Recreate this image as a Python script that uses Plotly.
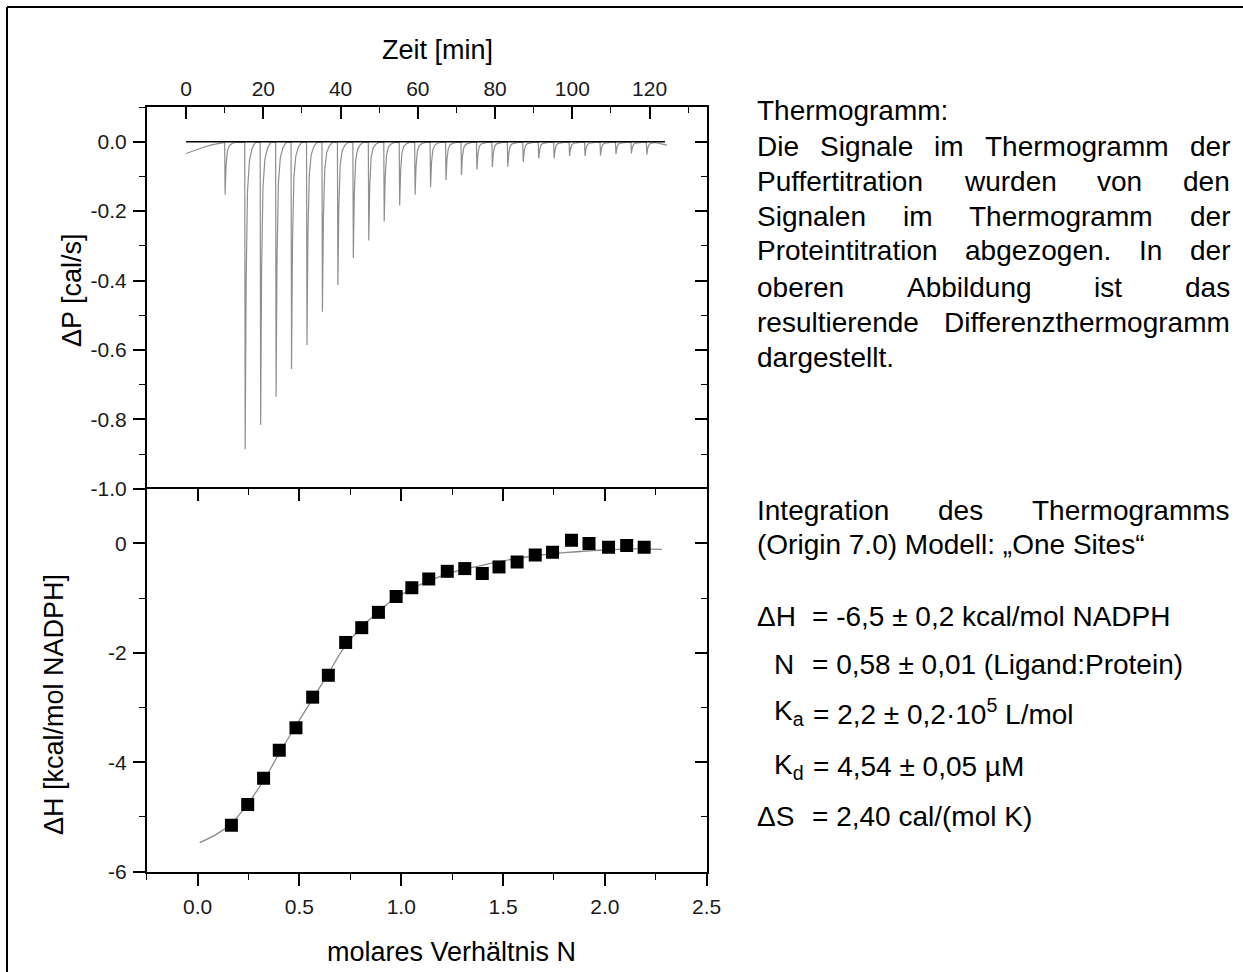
import plotly.graph_objects as go

W, H = 1243, 972
FONT = "Liberation Sans, Arial, Helvetica, sans-serif"

# ---------------- data ----------------
# top panel: differential thermogram, injection peaks
peak_time_min = [10.1, 15.3, 19.3, 23.3, 27.3, 31.3, 35.3, 39.3, 43.3, 47.3,
                 51.3, 55.3, 59.3, 63.3, 67.3, 71.3, 75.3, 79.3, 83.3, 87.3,
                 91.3, 95.3, 99.3, 103.3, 107.3, 111.3, 115.3, 119.3]
peak_dP = [-0.153, -0.886, -0.816, -0.735, -0.655, -0.586, -0.490, -0.413, -0.335, -0.285,
           -0.230, -0.184, -0.152, -0.131, -0.110, -0.096, -0.080, -0.073, -0.072, -0.058,
           -0.048, -0.048, -0.041, -0.041, -0.040, -0.036, -0.034, -0.037]
drift_time_min = [0.0, 2.0, 4.5, 6.6, 9.2]
drift_dP = [-0.034, -0.025, -0.016, -0.009, -0.003]
end_time_min = [122.0, 124.5]
end_dP = [-0.004, -0.010]
baseline_time = [0.0, 124.0]
baseline_dP = [0.0, 0.0]

# bottom panel: integrated heats and fit
ratio_N = [0.166, 0.246, 0.324, 0.401, 0.483, 0.565, 0.642, 0.727, 0.806, 0.888,
           0.975, 1.052, 1.135, 1.226, 1.312, 1.398, 1.480, 1.569, 1.658, 1.743,
           1.836, 1.922, 2.018, 2.107, 2.193]
dH_kcal = [-5.15, -4.77, -4.29, -3.78, -3.37, -2.81, -2.41, -1.81, -1.54, -1.26,
           -0.97, -0.81, -0.65, -0.51, -0.46, -0.55, -0.43, -0.34, -0.21, -0.16,
           0.06, 0.00, -0.07, -0.04, -0.07]
fit_N = [0.01, 0.10, 0.17, 0.25, 0.33, 0.40, 0.48, 0.56, 0.64, 0.72, 0.80, 0.88,
         0.96, 1.05, 1.15, 1.25, 1.35, 1.50, 1.65, 1.80, 2.00, 2.15, 2.28]
fit_dH = [-5.47, -5.30, -5.10, -4.74, -4.30, -3.84, -3.35, -2.87, -2.39, -1.90, -1.55,
          -1.27, -1.03, -0.83, -0.66, -0.53, -0.44, -0.32, -0.23, -0.17, -0.12, -0.10, -0.11]

# tick labels
time_ticks = [0, 20, 40, 60, 80, 100, 120]
time_labels = ["0", "20", "40", "60", "80", "100", "120"]
dP_ticks = [0.0, -0.2, -0.4, -0.6, -0.8, -1.0]
dP_labels = ["0.0", "-0.2", "-0.4", "-0.6", "-0.8", "-1.0"]
N_ticks = [0.0, 0.5, 1.0, 1.5, 2.0, 2.5]
N_labels = ["0.0", "0.5", "1.0", "1.5", "2.0", "2.5"]
dH_ticks = [0, -2, -4, -6]
dH_labels = ["0", "-2", "-4", "-6"]

# text
desc_rows = [
    ["Thermogramm:"],
    ["Die", "Signale", "im", "Thermogramm", "der"],
    ["Puffertitration", "wurden", "von", "den"],
    ["Signalen", "im", "Thermogramm", "der"],
    ["Proteintitration", "abgezogen.", "In", "der"],
    ["oberen", "Abbildung", "ist", "das"],
    ["resultierende", "Differenzthermogramm"],
    ["dargestellt."],
]
desc_justified = [False, True, True, True, True, True, True, False]
fit_row1 = ["Integration", "des", "Thermogramms"]
fit_row2 = "(Origin 7.0) Modell: \u201eOne Sites\u201c"
param_labels = ["\u0394H", "N", "K<sub>a</sub>", "K<sub>d</sub>", "\u0394S"]
param_values = ["= -6,5 \u00b1 0,2 kcal/mol NADPH",
                "= 0,58 \u00b1 0,01 (Ligand:Protein)",
                "= 2,2 \u00b1 0,2\u00b710<sup>5</sup> L/mol",
                "= 4,54 \u00b1 0,05 \u00b5M",
                "= 2,40 cal/(mol K)"]

# ---------------- geometry (pixels) ----------------
XL, XR = 146.7, 706.7
T_TOP, MID, B_BOT = 107.0, 488.7, 871.7


def px(x):
    return x / W


def py(y):
    return 1 - y / H


# Arial / Liberation Sans advance widths (1/1000 em) for justification
AW = dict(zip("abcdefghijklmnopqrstuvwxyz",
              [556, 556, 500, 556, 556, 278, 556, 556, 222, 222, 500, 222, 833,
               556, 556, 556, 556, 333, 500, 278, 556, 500, 722, 500, 500, 500]))
AW.update({"A": 667, "B": 667, "D": 722, "I": 278, "P": 667, "S": 667, "T": 611,
           ".": 278, ":": 278, " ": 278})


def tw(s, fs):
    return sum(AW.get(c, 556) for c in s) * fs / 1000.0


def justify(words, x0, x1, fs):
    ws = [tw(w, fs) for w in words]
    gap = (x1 - x0 - sum(ws)) / (len(words) - 1)
    pos, x = [], x0
    for w in ws:
        pos.append(x)
        x += w + gap
    return pos


# ---------------- thermogram trace ----------------
spike_off = [-0.12, 0.0, 0.25, 0.6, 1.1, 1.8, 2.6]
spike_frac = [0.0, 1.0, 0.45, 0.16, 0.06, 0.02, 0.0]
tx, ty = list(drift_time_min), list(drift_dP)
for t, d in zip(peak_time_min, peak_dP):
    for o, f in zip(spike_off, spike_frac):
        tx.append(t + o)
        ty.append(d * f - 0.002 * (1 - f))
tx += end_time_min
ty += end_dP

fig = go.Figure()
fig.add_trace(go.Scatter(x=tx, y=ty, mode="lines", xaxis="x", yaxis="y",
                         line=dict(color="#8f8f8f", width=1.2), showlegend=False,
                         hoverinfo="skip"))
fig.add_trace(go.Scatter(x=baseline_time, y=baseline_dP, mode="lines", xaxis="x", yaxis="y",
                         line=dict(color="black", width=1.6), showlegend=False))
fig.add_trace(go.Scatter(x=[], y=[], xaxis="x", yaxis="y3", showlegend=False))
fig.add_trace(go.Scatter(x=fit_N, y=fit_dH, mode="lines", xaxis="x2", yaxis="y2",
                         line=dict(color="#8a8a8a", width=1.3, shape="spline"),
                         showlegend=False))
fig.add_trace(go.Scatter(x=ratio_N, y=dH_kcal, mode="markers", xaxis="x2", yaxis="y2",
                         marker=dict(symbol="square", size=13, color="black",
                                     line=dict(width=0)), showlegend=False))
fig.add_trace(go.Scatter(x=[], y=[], xaxis="x4", yaxis="y2", showlegend=False))
fig.add_trace(go.Scatter(x=[], y=[], xaxis="x2", yaxis="y4", showlegend=False))

TICKFONT = dict(family=FONT, size=21, color="#1a1a1a")
base = dict(showgrid=False, zeroline=False, showline=True, linecolor="black",
            linewidth=1.6, tickcolor="black", tickwidth=1.5, ticklen=12,
            tickfont=TICKFONT, automargin=False)


def minor(dt, side):
    return dict(dtick=dt, tick0=0, ticks=side, ticklen=6, tickcolor="black", tickwidth=1.4)


xdom = [px(XL), px(XR)]
fig.update_layout(
    width=W, height=H, margin=dict(l=0, r=0, t=0, b=0),
    template="none", paper_bgcolor="white", plot_bgcolor="rgba(0,0,0,0)",
    showlegend=False,
    xaxis=dict(base, domain=xdom, anchor="y", side="top", range=[-10.2, 134.8],
               tickmode="array", tickvals=time_ticks, ticktext=time_labels,
               ticks="inside", minor=minor(10, "inside"), mirror=False,
               ticklabelstandoff=1),
    yaxis=dict(base, domain=[py(MID), py(T_TOP)], anchor="x", range=[-1.0, 0.1],
               tickmode="array", tickvals=dP_ticks, ticktext=dP_labels,
               ticks="outside", minor=minor(0.1, "outside"), ticklabelstandoff=2),
    yaxis3=dict(base, overlaying="y", side="right", anchor="x", range=[-1.0, 0.1],
                tickmode="array", tickvals=dP_ticks, showticklabels=False,
                ticks="inside", minor=minor(0.1, "inside")),
    xaxis2=dict(base, domain=xdom, anchor="y2", side="bottom", range=[-0.25, 2.5],
                tickmode="array", tickvals=N_ticks, ticktext=N_labels,
                ticks="outside", minor=minor(0.25, "outside"), ticklabelstandoff=3),
    xaxis4=dict(base, overlaying="x2", side="top", anchor="y2", range=[-0.25, 2.5],
                tickmode="array", tickvals=N_ticks, showticklabels=False,
                ticks="inside", minor=minor(0.25, "inside"), linewidth=2),
    yaxis2=dict(base, domain=[py(B_BOT), py(MID)], anchor="x2", range=[-6, 1],
                tickmode="array", tickvals=dH_ticks, ticktext=dH_labels,
                ticks="outside", minor=minor(1, "outside"), ticklabelstandoff=2),
    yaxis4=dict(base, overlaying="y2", side="right", anchor="x2", range=[-6, 1],
                tickmode="array", tickvals=dH_ticks, showticklabels=False,
                ticks="inside", minor=minor(1, "inside")),
)

anns = []


def ann(text, x, y, xanchor="left", size=28, angle=0):
    anns.append(dict(text=text, x=px(x), y=py(y), xref="paper", yref="paper",
                     xanchor=xanchor, yanchor="middle", showarrow=False,
                     textangle=angle, font=dict(family=FONT, size=size, color="black")))


# axis titles
ann("Zeit [min]", 437, 50, "center", 27)
ann("\u0394P [cal/s]", 72, 290, "center", 27, -90)
ann("\u0394H [kcal/mol NADPH]", 54, 705, "center", 27, -90)
ann("molares Verh\u00e4ltnis N", 451, 952, "center", 27)

# description block
TX0, TX1, FS = 755, 1228, 28
row_y = [111, 146, 181, 216, 251, 287, 322, 357]
for words, just, y in zip(desc_rows, desc_justified, row_y):
    if just:
        for w, x in zip(words, justify(words, TX0, TX1, FS)):
            ann(w, x, y, "left", FS)
    else:
        ann(" ".join(words), TX0, y, "left", FS)

# fit block
for w, x in zip(fit_row1, justify(fit_row1, TX0, TX1, FS)):
    ann(w, x, 511, "left", FS)
ann(fit_row2, TX0, 544, "left", FS)
label_x = [755, 772, 772, 772, 755]
value_x = [810, 810, 811, 811, 810]
value_y = [616, 664, 712, 766, 816]
for lab, val, lx, vx, y in zip(param_labels, param_values, label_x, value_x, value_y):
    ann(lab, lx, y, "left", FS)
    ann(val, vx, y, "left", FS)

fig.update_layout(annotations=anns)

# outer frame (top and left edges)
fig.update_layout(shapes=[
    dict(type="line", xref="paper", yref="paper", x0=px(7), x1=1.0, y0=py(7), y1=py(7),
         line=dict(color="black", width=2)),
    dict(type="line", xref="paper", yref="paper", x0=px(7), x1=px(7), y0=0, y1=py(7),
         line=dict(color="black", width=2)),
])

fig.write_html("out.html", config={"displayModeBar": False},
               post_script="document.body.style.margin='0';")
